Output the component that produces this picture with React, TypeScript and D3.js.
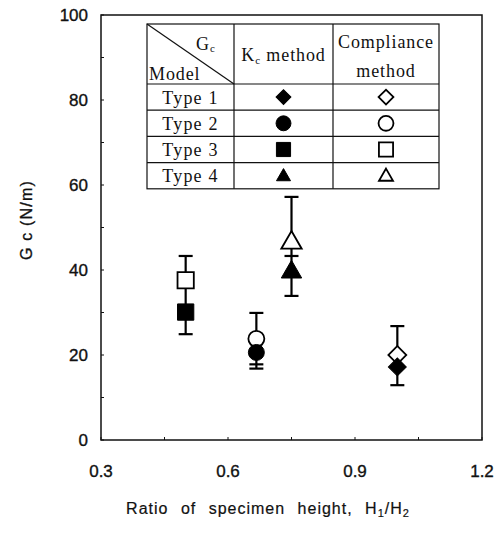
import React from "react";
import * as d3 from "d3";

const types = ["Type 1", "Type 2", "Type 3", "Type 4"];
const symbolNames = ["diamond", "circle", "square", "triangle"];
const ratios = [1.0, 0.667, 0.5, 0.75];
const kcValues = [17.2, 20.6, 30.1, 39.5];
const kcLower = [12.9, 16.8, 24.9, 33.9];
const compValues = [20.0, 23.8, 37.6, 46.4];
const compUpper = [26.8, 29.9, 43.3, 57.2];
const compLower: (number | null)[] = [null, 17.8, null, 43.3];
const xTicks = [0.3, 0.6, 0.9, 1.2];
const xMinorTicks = [0.45, 0.75, 1.05];
const yTicks = [0, 20, 40, 60, 80, 100];
const yMinorTicks = [10, 30, 50, 70, 90];

const W = 502, H = 536;
const m = { left: 101, right: 482, top: 15, bottom: 440 };

function symPath(name: string, size: number) {
  const t =
    name === "circle" ? d3.symbolCircle :
    name === "triangle" ? d3.symbolTriangle : d3.symbolSquare;
  return d3.symbol().type(t).size(size)() as string;
}
const symSize: Record<string, number> = { diamond: 160, circle: 200, square: 265, triangle: 180 };
const legSize: Record<string, number> = { diamond: 110, circle: 175, square: 200, triangle: 85 };

function Marker({ name, x, y, filled, size }: { name: string; x: number; y: number; filled: boolean; size: number }) {
  const rot = name === "diamond" ? " rotate(45)" : "";
  return (
    <path
      d={symPath(name, size)}
      transform={`translate(${x},${y})${rot}`}
      fill={filled ? "#000" : "#fff"}
      stroke="#000"
      strokeWidth={filled ? 1 : 1.8}
    />
  );
}

export default function App() {
  const x = d3.scaleLinear().domain([0.3, 1.2]).range([m.left, m.right]);
  const y = d3.scaleLinear().domain([0, 100]).range([m.bottom, m.top]);
  const sans = "'Liberation Sans', Arial, sans-serif";
  const serif = "'Liberation Serif', 'Times New Roman', serif";
  const capW = 7;

  // table geometry
  const tL = 147, tR = 439, tT = 24, c1 = 234, c2 = 333, hB = 84, rowH = 26.2;

  return (
    <svg width={W} height={H} style={{ position: "absolute", left: 0, top: 0, background: "#fff" }}>
      {/* frame */}
      <rect x={m.left} y={m.top} width={m.right - m.left} height={m.bottom - m.top} fill="none" stroke="#111" strokeWidth={1.5} />
      {/* ticks */}
      {xTicks.concat(xMinorTicks).map((t) => (
        <line key={"xt" + t} x1={x(t)} x2={x(t)} y1={m.bottom} y2={m.bottom - 3} stroke="#111" strokeWidth={1} />
      ))}
      {yTicks.concat(yMinorTicks).map((t) => (
        <line key={"yt" + t} x1={m.left} x2={m.left + 3} y1={y(t)} y2={y(t)} stroke="#111" strokeWidth={1} />
      ))}
      <g fontFamily={sans} fontSize={17} fill="#111" stroke="#111" strokeWidth={0.35}>
        {xTicks.map((t) => (
          <text key={"xl" + t} x={x(t)} y={477} textAnchor="middle">
            {d3.format(".1f")(t)}
          </text>
        ))}
        {yTicks.map((t) => (
          <text key={"yl" + t} x={88} y={y(t) + 6} textAnchor="end">
            {t}
          </text>
        ))}
      </g>
      <text transform="translate(32,220) rotate(-90)" textAnchor="middle" fontFamily={sans} fontSize={16} fill="#111" stroke="#111" strokeWidth={0.3} letterSpacing={1.2}>
        G c (N/m)
      </text>
      <text x={268} y={514} textAnchor="middle" fontFamily={sans} fontSize={16} fill="#111" stroke="#111" strokeWidth={0.2} letterSpacing={1} wordSpacing={7}>
        Ratio of specimen height, H<tspan fontSize={11} dy={3}>1</tspan><tspan dy={-3}>/H</tspan><tspan fontSize={11} dy={3}>2</tspan>
      </text>

      {/* error bars */}
      {types.map((tp, i) => {
        const cx = x(ratios[i]);
        const lo = compLower[i];
        return (
          <g key={"eb" + tp} stroke="#000" strokeWidth={2.2}>
            <line x1={cx} x2={cx} y1={y(kcLower[i])} y2={y(compUpper[i])} />
            <line x1={cx - capW} x2={cx + capW} y1={y(compUpper[i])} y2={y(compUpper[i])} />
            <line x1={cx - capW} x2={cx + capW} y1={y(kcLower[i])} y2={y(kcLower[i])} />
            {lo !== null && <line x1={cx - capW} x2={cx + capW} y1={y(lo)} y2={y(lo)} />}
          </g>
        );
      })}
      {/* markers */}
      {types.map((tp, i) => (
        <g key={"mk" + tp}>
          <Marker name={symbolNames[i]} x={x(ratios[i])} y={y(compValues[i])} filled={false} size={symSize[symbolNames[i]]} />
          <Marker name={symbolNames[i]} x={x(ratios[i])} y={y(kcValues[i])} filled={true} size={symSize[symbolNames[i]]} />
        </g>
      ))}

      {/* legend table */}
      <g stroke="#111" strokeWidth={1.2} fill="none">
        <rect x={tL} y={tT} width={tR - tL} height={hB + rowH * 4 - tT} fill="#fff" />
        <line x1={c1} x2={c1} y1={tT} y2={hB + rowH * 4} />
        <line x1={c2} x2={c2} y1={tT} y2={hB + rowH * 4} />
        <line x1={tL} x2={c1} y1={tT} y2={hB} />
        {[0, 1, 2, 3].map((r) => (
          <line key={"rl" + r} x1={tL} x2={tR} y1={hB + rowH * r} y2={hB + rowH * r} />
        ))}
      </g>
      <g fontFamily={serif} fill="#111" fontSize={18} letterSpacing={0.9}>
        <text x={196} y={50}>G<tspan fontSize={11} dy={2}>c</tspan></text>
        <text x={149} y={80}>Model</text>
        <text x={(c1 + c2) / 2} y={61} textAnchor="middle">K<tspan fontSize={11} dy={3}>c</tspan><tspan dy={-3}>  method</tspan></text>
        <text x={(c2 + tR) / 2} y={48} textAnchor="middle">Compliance</text>
        <text x={(c2 + tR) / 2} y={77} textAnchor="middle">method</text>
        {types.map((tp, i) => (
          <text key={"tt" + tp} x={(tL + c1) / 2} y={hB + rowH * i + 19.5} textAnchor="middle" letterSpacing={1.2}>
            {tp}
          </text>
        ))}
      </g>
      {types.map((tp, i) => {
        const cy = hB + rowH * i + rowH / 2 + (symbolNames[i] === "triangle" ? 1 : 0);
        return (
          <g key={"lg" + tp}>
            <Marker name={symbolNames[i]} x={(c1 + c2) / 2} y={cy} filled={true} size={legSize[symbolNames[i]]} />
            <Marker name={symbolNames[i]} x={(c2 + tR) / 2} y={cy} filled={false} size={legSize[symbolNames[i]]} />
          </g>
        );
      })}
    </svg>
  );
}
